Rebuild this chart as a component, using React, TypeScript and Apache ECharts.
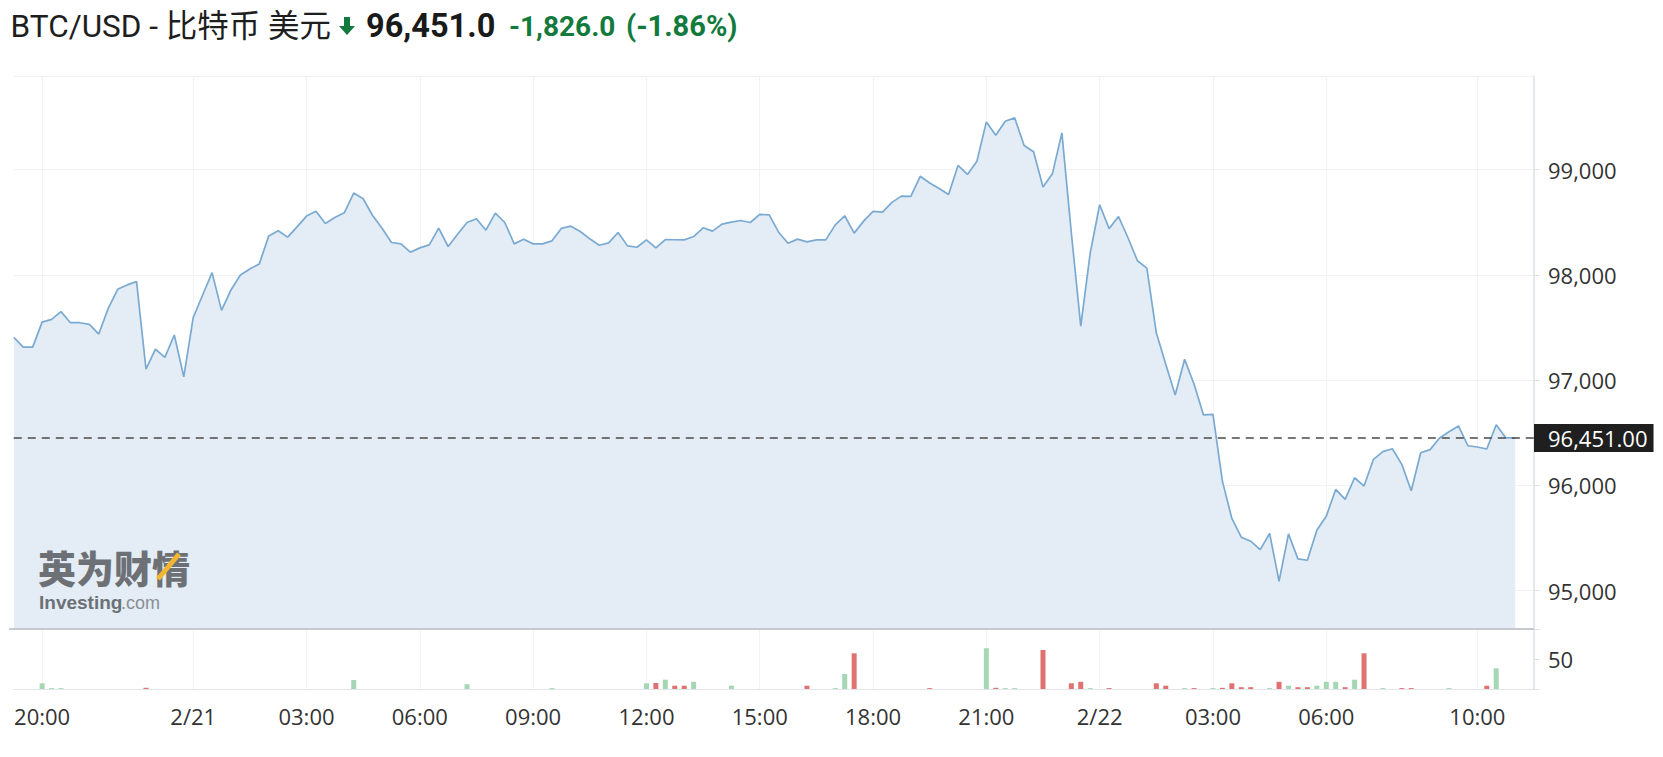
import React, { useEffect, useRef } from 'react';
import * as echarts from 'echarts';

// ---- data -----------------------------------------------------------
const START_DAY = 20; // 2/20
const START_MIN = 19 * 60 + 15; // 19:15
const STEP_MIN = 15;
const PAD_CATS = 2; // empty slots after the last quote

const PRICE = [
  97406, 97314, 97314, 97552, 97578, 97651, 97546, 97546, 97530, 97438,
  97682, 97863, 97905, 97936, 97105, 97295, 97216, 97429, 97032, 97594,
  97809, 98022, 97663, 97857, 98000, 98057, 98105, 98371, 98419, 98359,
  98457, 98559, 98606, 98489, 98546, 98590, 98778, 98724, 98565, 98444,
  98308, 98295, 98216, 98257, 98286, 98444, 98270, 98387, 98498, 98533,
  98425, 98587, 98498, 98295, 98340, 98295, 98295, 98324, 98443, 98463,
  98413, 98343, 98282, 98305, 98403, 98276, 98263, 98333, 98257, 98336,
  98334, 98333, 98365, 98448, 98416, 98483, 98502, 98517, 98498, 98575,
  98571, 98406, 98301, 98340, 98314, 98333, 98333, 98476, 98562, 98397,
  98511, 98603, 98597, 98689, 98749, 98746, 98937, 98873, 98822, 98765,
  99040, 98955, 99080, 99454, 99327, 99460, 99492, 99230, 99170, 98835,
  98962, 99350, 98400, 97513, 98208, 98667, 98440, 98555, 98353, 98135,
  98064, 97450, 97151, 96860, 97198, 96962, 96670, 96676, 96041, 95686,
  95508, 95470, 95390, 95543, 95090, 95540, 95302, 95289, 95575, 95708,
  95962, 95867, 96073, 95994, 96248, 96321, 96349, 96200, 95950, 96310,
  96340, 96450, 96510, 96565, 96377, 96365, 96346, 96576, 96452, 96451,
];

const VOLUME = [
  0, 0, 0, 9.5, 1.5, 1.5, 0, 0, 0, 0,
  0, 0, 0, 0, 2, 0, 0, 0, 0, 0,
  0, 0, 0, 0, 0, 0, 0, 0, 0, 0,
  0, 0, 0, 0, 0, 0, 15, 0, 0, 0,
  0, 0, 0, 0, 0, 0, 0, 0, 8, 0,
  0, 0, 0, 0, 0, 0, 0, 1.5, 0, 0,
  0, 0, 0, 0, 0, 0, 0, 9.5, 10, 15.5,
  5.5, 5.5, 12, 0, 0, 0, 5.5, 0, 0, 0,
  0, 0, 0, 0, 5.5, 0, 0, 1.5, 25, 59.5,
  0, 0, 0, 0, 0, 0, 0, 1.5, 0, 0,
  0, 0, 0, 68, 2, 1.5, 1.5, 0, 0, 65,
  0, 0, 9.5, 12, 1.5, 0, 1.5, 0, 0, 0,
  0, 9.5, 5.5, 0, 1.5, 1.5, 0, 1.5, 2, 9.5,
  3, 3, 0, 1.5, 12, 5.5, 3, 3, 5.5, 12,
  12, 3, 15.5, 59.5, 0, 1.5, 0, 1.5, 1.5, 0,
  0, 0, 1.5, 0, 0, 0, 5.5, 34.5, 0, 0,
];

const LAST_PRICE = 96451.0;
const CHANGE = -1826.0;
const CHANGE_PCT = -1.86;

const TICK_TIMES = [
  '2/20 20:00', '2/21 00:00', '2/21 03:00', '2/21 06:00', '2/21 09:00',
  '2/21 12:00', '2/21 15:00', '2/21 18:00', '2/21 21:00', '2/22 00:00',
  '2/22 03:00', '2/22 06:00', '2/22 10:00',
];
const TICK_LABELS = [
  '20:00', '2/21', '03:00', '06:00', '09:00', '12:00', '15:00', '18:00',
  '21:00', '2/22', '03:00', '06:00', '10:00',
];

const PRICE_MIN = 94636;
const PRICE_MAX = 99890;
const VOL_MAX = 100;
// ---------------------------------------------------------------------

const pad2 = (n: number) => (n < 10 ? '0' + n : '' + n);
const CATS: string[] = [];
for (let i = 0; i < PRICE.length + PAD_CATS; i++) {
  const m = START_MIN + i * STEP_MIN;
  const day = START_DAY + Math.floor(m / 1440);
  const hm = m % 1440;
  CATS.push(`2/${day} ${pad2(Math.floor(hm / 60))}:${pad2(hm % 60)}`);
}
const tickIdx = (i: number) => TICK_TIMES.indexOf(CATS[i]);
const fmt = (v: number, d = 0) =>
  v.toLocaleString('en-US', { minimumFractionDigits: d, maximumFractionDigits: d });

const W = 1663;
const H = 757;
const PLOT_L = 13.8;
const AXIS_X = 1534;
const TOP = 76;
const SEP = 629;
const BOT = 689;
const LABEL_FONT = '"Open Sans", "Noto Sans", sans-serif';
const GREEN = '#137a3d';
const WM = '#6d7176';

export default function App() {
  const ref = useRef<HTMLDivElement>(null);
  useEffect(() => {
    if (!ref.current) return;
    const chart = echarts.init(ref.current, undefined, { renderer: 'svg' });
    const priceSeries = [...PRICE, ...new Array(PAD_CATS).fill(null)];
    const volSeries = [...VOLUME, ...new Array(PAD_CATS).fill(null)];
    const splitInterval = (i: number) => tickIdx(i) >= 0;

    chart.setOption({
      animation: false,
      backgroundColor: '#ffffff',
      grid: [
        { left: PLOT_L, right: W - AXIS_X, top: TOP, height: SEP - TOP },
        { left: PLOT_L, right: W - AXIS_X, top: SEP, height: BOT - SEP },
      ],
      xAxis: [
        {
          type: 'category',
          gridIndex: 0,
          data: CATS,
          boundaryGap: false,
          axisLine: { show: false },
          axisTick: { show: false },
          axisLabel: { show: false },
          splitLine: { show: true, interval: splitInterval, lineStyle: { color: '#f0f2f5', width: 1 } },
        },
        {
          type: 'category',
          gridIndex: 1,
          data: CATS,
          boundaryGap: false,
          axisLine: { show: true, lineStyle: { color: '#e2e5e9', width: 1 } },
          axisTick: { show: false },
          axisLabel: {
            interval: splitInterval,
            formatter: (_v: string, i: number) => {
              const k = tickIdx(i);
              return k >= 0 ? TICK_LABELS[k] : '';
            },
            color: '#333333',
            fontSize: 22,
            fontFamily: LABEL_FONT,
            margin: 16,
          },
          splitLine: { show: true, interval: splitInterval, lineStyle: { color: '#f0f2f5', width: 1 } },
        },
      ],
      yAxis: [
        {
          type: 'value',
          gridIndex: 0,
          position: 'right',
          min: PRICE_MIN,
          max: PRICE_MAX,
          splitNumber: 5,
          axisLine: { show: true, lineStyle: { color: '#dde1e6', width: 1.5 } },
          axisTick: { show: true, length: 5, lineStyle: { color: '#dde1e6' } },
          axisLabel: {
            showMinLabel: false,
            showMaxLabel: false,
            formatter: (v: number) => fmt(v),
            color: '#333333',
            fontSize: 22,
            fontFamily: LABEL_FONT,
            margin: 14,
          },
          splitLine: { show: true, lineStyle: { color: '#f0f2f5', width: 1 } },
        },
        {
          type: 'value',
          gridIndex: 1,
          position: 'right',
          min: 0,
          max: VOL_MAX,
          interval: 50,
          axisLine: { show: true, lineStyle: { color: '#dde1e6', width: 1.5 } },
          axisTick: { show: true, length: 5, lineStyle: { color: '#dde1e6' } },
          axisLabel: {
            formatter: (v: number) => (v === 50 ? '50' : ''),
            color: '#333333',
            fontSize: 22,
            fontFamily: LABEL_FONT,
            margin: 14,
          },
          splitLine: { show: false },
        },
      ],
      series: [
        {
          type: 'line',
          xAxisIndex: 0,
          yAxisIndex: 0,
          data: priceSeries,
          symbol: 'none',
          lineStyle: { color: '#7aaad2', width: 1.7 },
          areaStyle: { color: '#e4edf5', opacity: 1 },
          markLine: {
            silent: true,
            symbol: 'none',
            data: [{ yAxis: LAST_PRICE }],
            lineStyle: { type: [8, 6], color: '#4a4a4a', width: 1.5 },
            label: {
              show: true,
              position: 'end',
              distance: 0,
              formatter: fmt(LAST_PRICE, 2),
              backgroundColor: '#1f1f1f',
              color: '#ffffff',
              fontSize: 22,
              fontFamily: LABEL_FONT,
              lineHeight: 24,
              padding: [2, 6, 2, 14],
            },
          },
        },
        {
          type: 'bar',
          xAxisIndex: 1,
          yAxisIndex: 1,
          data: volSeries,
          barWidth: 5,
          itemStyle: {
            color: (p: any) => {
              const i = p.dataIndex;
              const prev = i > 0 ? PRICE[i - 1] : PRICE[i];
              return PRICE[i] < prev ? '#e07272' : '#a5d7b4';
            },
          },
        },
      ],
      graphic: [
        {
          type: 'line',
          z: 50,
          shape: { x1: 9, y1: SEP, x2: AXIS_X, y2: SEP },
          style: { stroke: '#c6cacf', lineWidth: 2 },
        },
        {
          type: 'text',
          x: 10.6,
          y: 26,
          style: {
            text: 'BTC/USD - 比特币 美元',
            fontSize: 31.5,
            fontFamily: 'Roboto, "Noto Sans CJK SC", sans-serif',
            fill: '#1e1e1e',
            verticalAlign: 'middle',
          },
        },
        {
          type: 'polygon',
          shape: {
            points: [
              [344, 17], [350, 17], [350, 26], [355, 26], [347, 35], [339, 26], [344, 26],
            ],
          },
          style: { fill: GREEN },
        },
        {
          type: 'text',
          x: 366,
          y: 26,
          style: {
            text: fmt(LAST_PRICE, 1),
            fontSize: 32.5,
            fontWeight: 'bold',
            fontFamily: 'Roboto, sans-serif',
            fill: '#1a1a1a',
            verticalAlign: 'middle',
          },
        },
        {
          type: 'text',
          x: 509,
          y: 26,
          style: {
            text: fmt(CHANGE, 1),
            fontSize: 28,
            fontWeight: 'bold',
            fontFamily: 'Roboto, sans-serif',
            fill: GREEN,
            verticalAlign: 'middle',
          },
        },
        {
          type: 'text',
          x: 626,
          y: 26,
          style: {
            text: `(${CHANGE_PCT.toFixed(2)}%)`,
            fontSize: 29,
            fontWeight: 'bold',
            fontFamily: 'Roboto, sans-serif',
            fill: GREEN,
            verticalAlign: 'middle',
          },
        },
        {
          type: 'text',
          z: 100,
          x: 38,
          y: 566,
          style: {
            text: '英为财情',
            fontSize: 38,
            lineHeight: 38,
            fontWeight: 900,
            fontFamily: '"Noto Sans CJK SC", sans-serif',
            fill: WM,
            verticalAlign: 'middle',
          },
        },
        {
          type: 'line',
          z: 101,
          shape: { x1: 158, y1: 579, x2: 179, y2: 554 },
          style: { stroke: '#f2b632', lineWidth: 5 },
        },
        {
          type: 'text',
          z: 100,
          x: 39,
          y: 602,
          style: {
            text: 'Investing',
            fontSize: 19,
            lineHeight: 19,
            fontWeight: 'bold',
            fontFamily: '"Liberation Sans", Arial, sans-serif',
            fill: WM,
            verticalAlign: 'middle',
          },
        },
        {
          type: 'text',
          z: 100,
          x: 121,
          y: 603,
          style: {
            text: '.com',
            fontSize: 18,
            lineHeight: 18,
            fontFamily: '"Liberation Sans", Arial, sans-serif',
            fill: '#8a8e93',
            verticalAlign: 'middle',
          },
        },
      ],
    });
    return () => chart.dispose();
  }, []);

  return (
    <div
      ref={ref}
      style={{ position: 'fixed', left: 0, top: 0, width: W, height: H, background: '#fff' }}
    />
  );
}
